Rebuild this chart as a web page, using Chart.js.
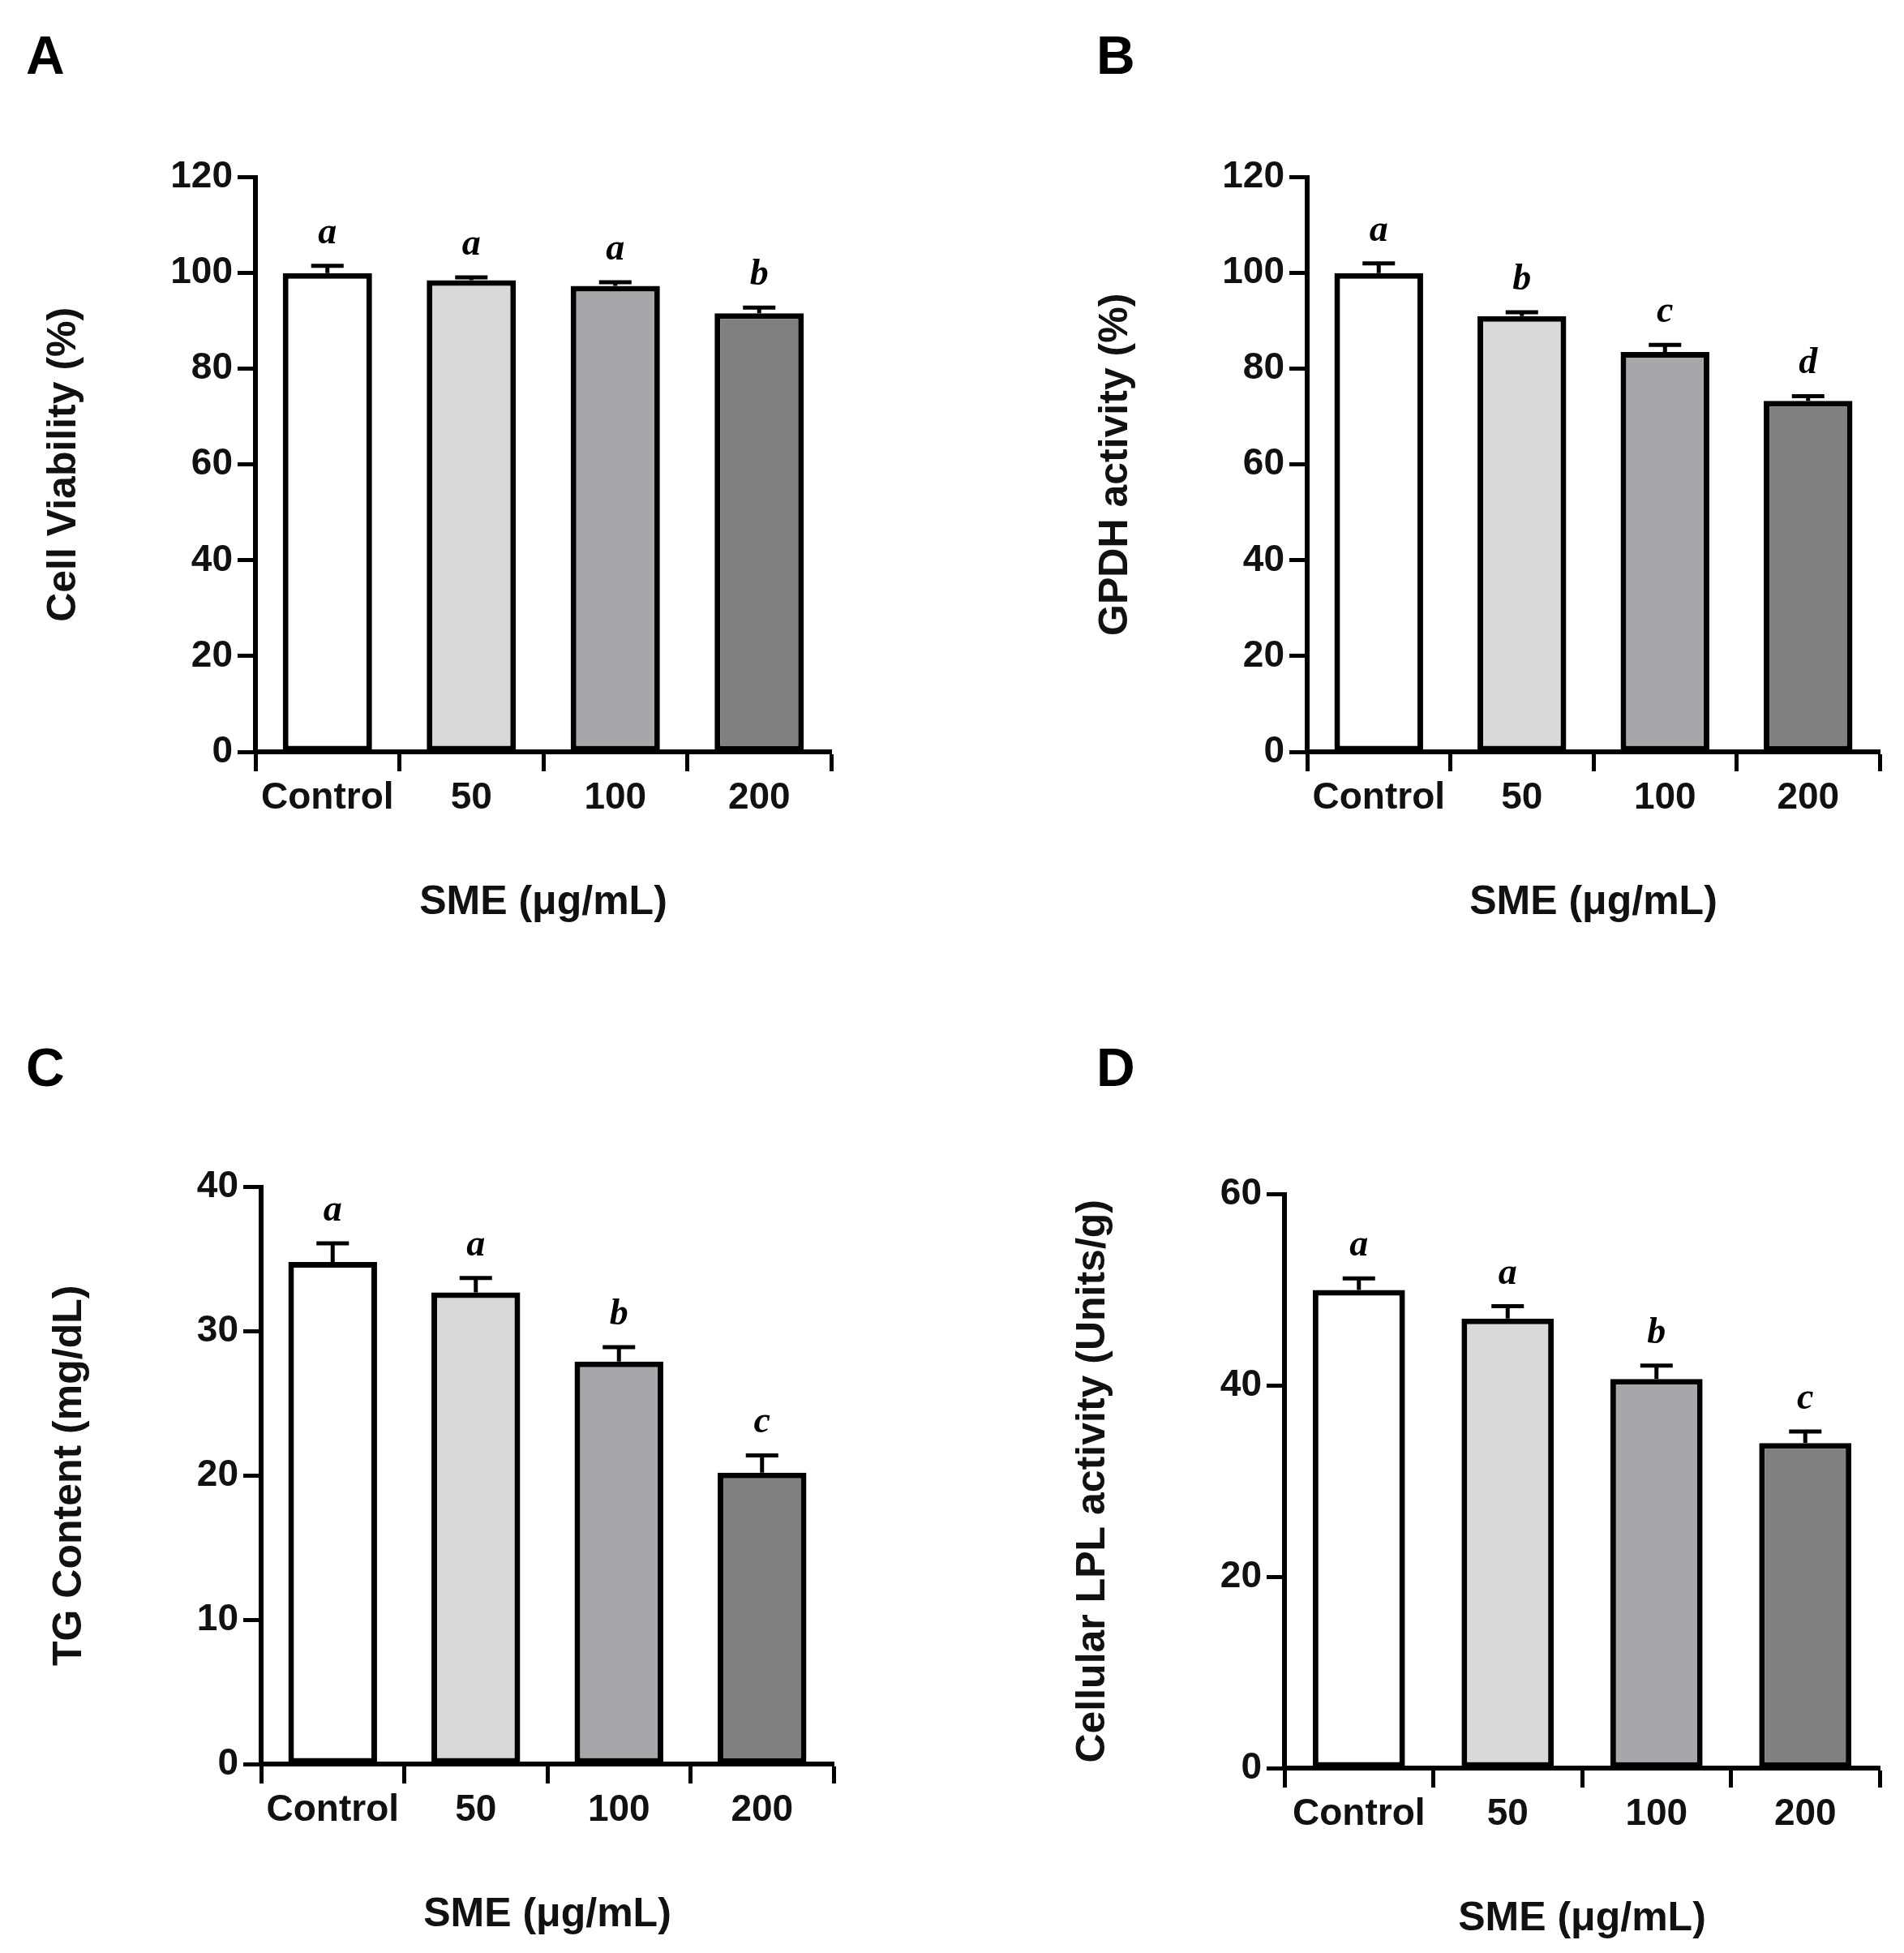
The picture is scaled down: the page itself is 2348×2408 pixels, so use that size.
<!DOCTYPE html>
<html><head><meta charset="utf-8">
<script src="https://cdn.jsdelivr.net/npm/chart.js@4"></script>
<style>
body{margin:0;background:#fff;width:2348px;height:2408px;position:relative;overflow:hidden;font-family:"Liberation Sans",Arial,sans-serif}
.lab{position:absolute;font-weight:bold;font-size:66px}
canvas{position:absolute}
</style></head><body>
<div class="lab" style="left:32px;top:30px">A</div>
<div class="lab" style="left:1352px;top:30px">B</div>
<div class="lab" style="left:32px;top:1278px">C</div>
<div class="lab" style="left:1352px;top:1278px">D</div>
<canvas id="cA"></canvas><canvas id="cB"></canvas><canvas id="cC"></canvas><canvas id="cD"></canvas>
<script>
const categories = ["Control", "50", "100", "200"];
const barColors = ["#ffffff", "#d9d9d9", "#a7a7ab", "#808080"];

const viabilityVals = [100, 98.5, 97.3, 91.6];
const viabilityErr = [1.5, 0.6, 0.8, 1.2];
const viabilityLetters = ["a", "a", "a", "b"];

const gpdhVals = [100, 91, 83.5, 73.3];
const gpdhErr = [2, 0.8, 1.5, 1];
const gpdhLetters = ["a", "b", "c", "d"];

const tgVals = [34.8, 32.7, 27.9, 20.2];
const tgErr = [1.3, 1, 1, 1.2];
const tgLetters = ["a", "a", "b", "c"];

const lplVals = [50, 47, 40.7, 34];
const lplErr = [1.2, 1.3, 1.4, 1.2];
const lplLetters = ["a", "a", "b", "c"];

const YW = 270, XH = 220, PT = 30;

const errPlugin = {
  id: "errs",
  afterDatasetsDraw(chart, args, opts) {
    const { ctx, scales: { x, y } } = chart;
    const ds = chart.data.datasets[0];
    ctx.save();
    ctx.strokeStyle = "#000"; ctx.lineWidth = 5; ctx.fillStyle = "#000";
    ds.data.forEach((v, i) => {
      const cx = x.getPixelForValue(i);
      const top = y.getPixelForValue(v + opts.err[i]);
      const base = y.getPixelForValue(v);
      ctx.beginPath();
      ctx.moveTo(cx, base); ctx.lineTo(cx, top);
      ctx.moveTo(cx - 20, top); ctx.lineTo(cx + 20, top);
      ctx.stroke();
      ctx.font = "italic bold 46px 'Liberation Serif', serif";
      ctx.textAlign = "center";
      ctx.fillText(opts.letters[i], cx, top - 28);
    });
    ctx.restore();
  }
};

function makePanel(id, box, vals, err, letters, yMax, step, yTitle) {
  const c = document.getElementById(id);
  const left = box.axisX - YW, top = box.top - PT;
  const w = box.right - box.axisX + YW + 20, h = box.bottom - box.top + PT + XH;
  c.style.left = left + "px"; c.style.top = top + "px";
  c.style.width = w + "px"; c.style.height = h + "px";
  c.width = w; c.height = h;
  const tickFont = { family: "'Liberation Sans', Arial, sans-serif", size: 46, weight: "bold" };
  new Chart(c, {
    type: "bar",
    data: { labels: categories, datasets: [{
      data: vals, backgroundColor: barColors, borderColor: "#000", borderWidth: 7,
      borderSkipped: false, barPercentage: 0.62, categoryPercentage: 1
    }] },
    options: {
      responsive: false, animation: false,
      layout: { padding: { top: PT, right: 20, left: 0, bottom: 0 } },
      plugins: { legend: { display: false }, tooltip: { enabled: false }, errs: { err, letters } },
      scales: {
        x: {
          grid: { drawOnChartArea: false, tickLength: 24, tickWidth: 5, color: "#000" },
          border: { width: 6, color: "#000" },
          ticks: { color: "#111", font: tickFont, padding: 6, maxRotation: 0, autoSkip: false },
          title: { display: true, text: "SME (\u03bcg/mL)", color: "#111", font: { ...tickFont, size: 50 }, padding: { top: 22 } },
          afterFit: s => { s.height = XH; }
        },
        y: {
          min: 0, max: yMax,
          grid: { drawOnChartArea: false, tickLength: 22, tickWidth: 5, color: "#000" },
          border: { width: 6, color: "#000" },
          ticks: { stepSize: step, color: "#111", font: tickFont, padding: 6 },
          title: { display: true, text: yTitle, color: "#111", font: { ...tickFont, size: 50 }, padding: { bottom: 16 } },
          afterFit: s => { s.width = YW; }
        }
      }
    },
    plugins: [errPlugin]
  });
}

makePanel("cA", { axisX: 315, top: 215, bottom: 927, right: 1025 }, viabilityVals, viabilityErr, viabilityLetters, 120, 20, "Cell Viability (%)");
makePanel("cB", { axisX: 1612, top: 215, bottom: 927, right: 2318 }, gpdhVals, gpdhErr, gpdhLetters, 120, 20, "GPDH activity (%)");
makePanel("cC", { axisX: 322, top: 1460, bottom: 2175, right: 1028 }, tgVals, tgErr, tgLetters, 40, 10, "TG Content (mg/dL)");
makePanel("cD", { axisX: 1584, top: 1469, bottom: 2180, right: 2318 }, lplVals, lplErr, lplLetters, 60, 20, "Cellular LPL activity (Units/g)");
</script></body></html>
